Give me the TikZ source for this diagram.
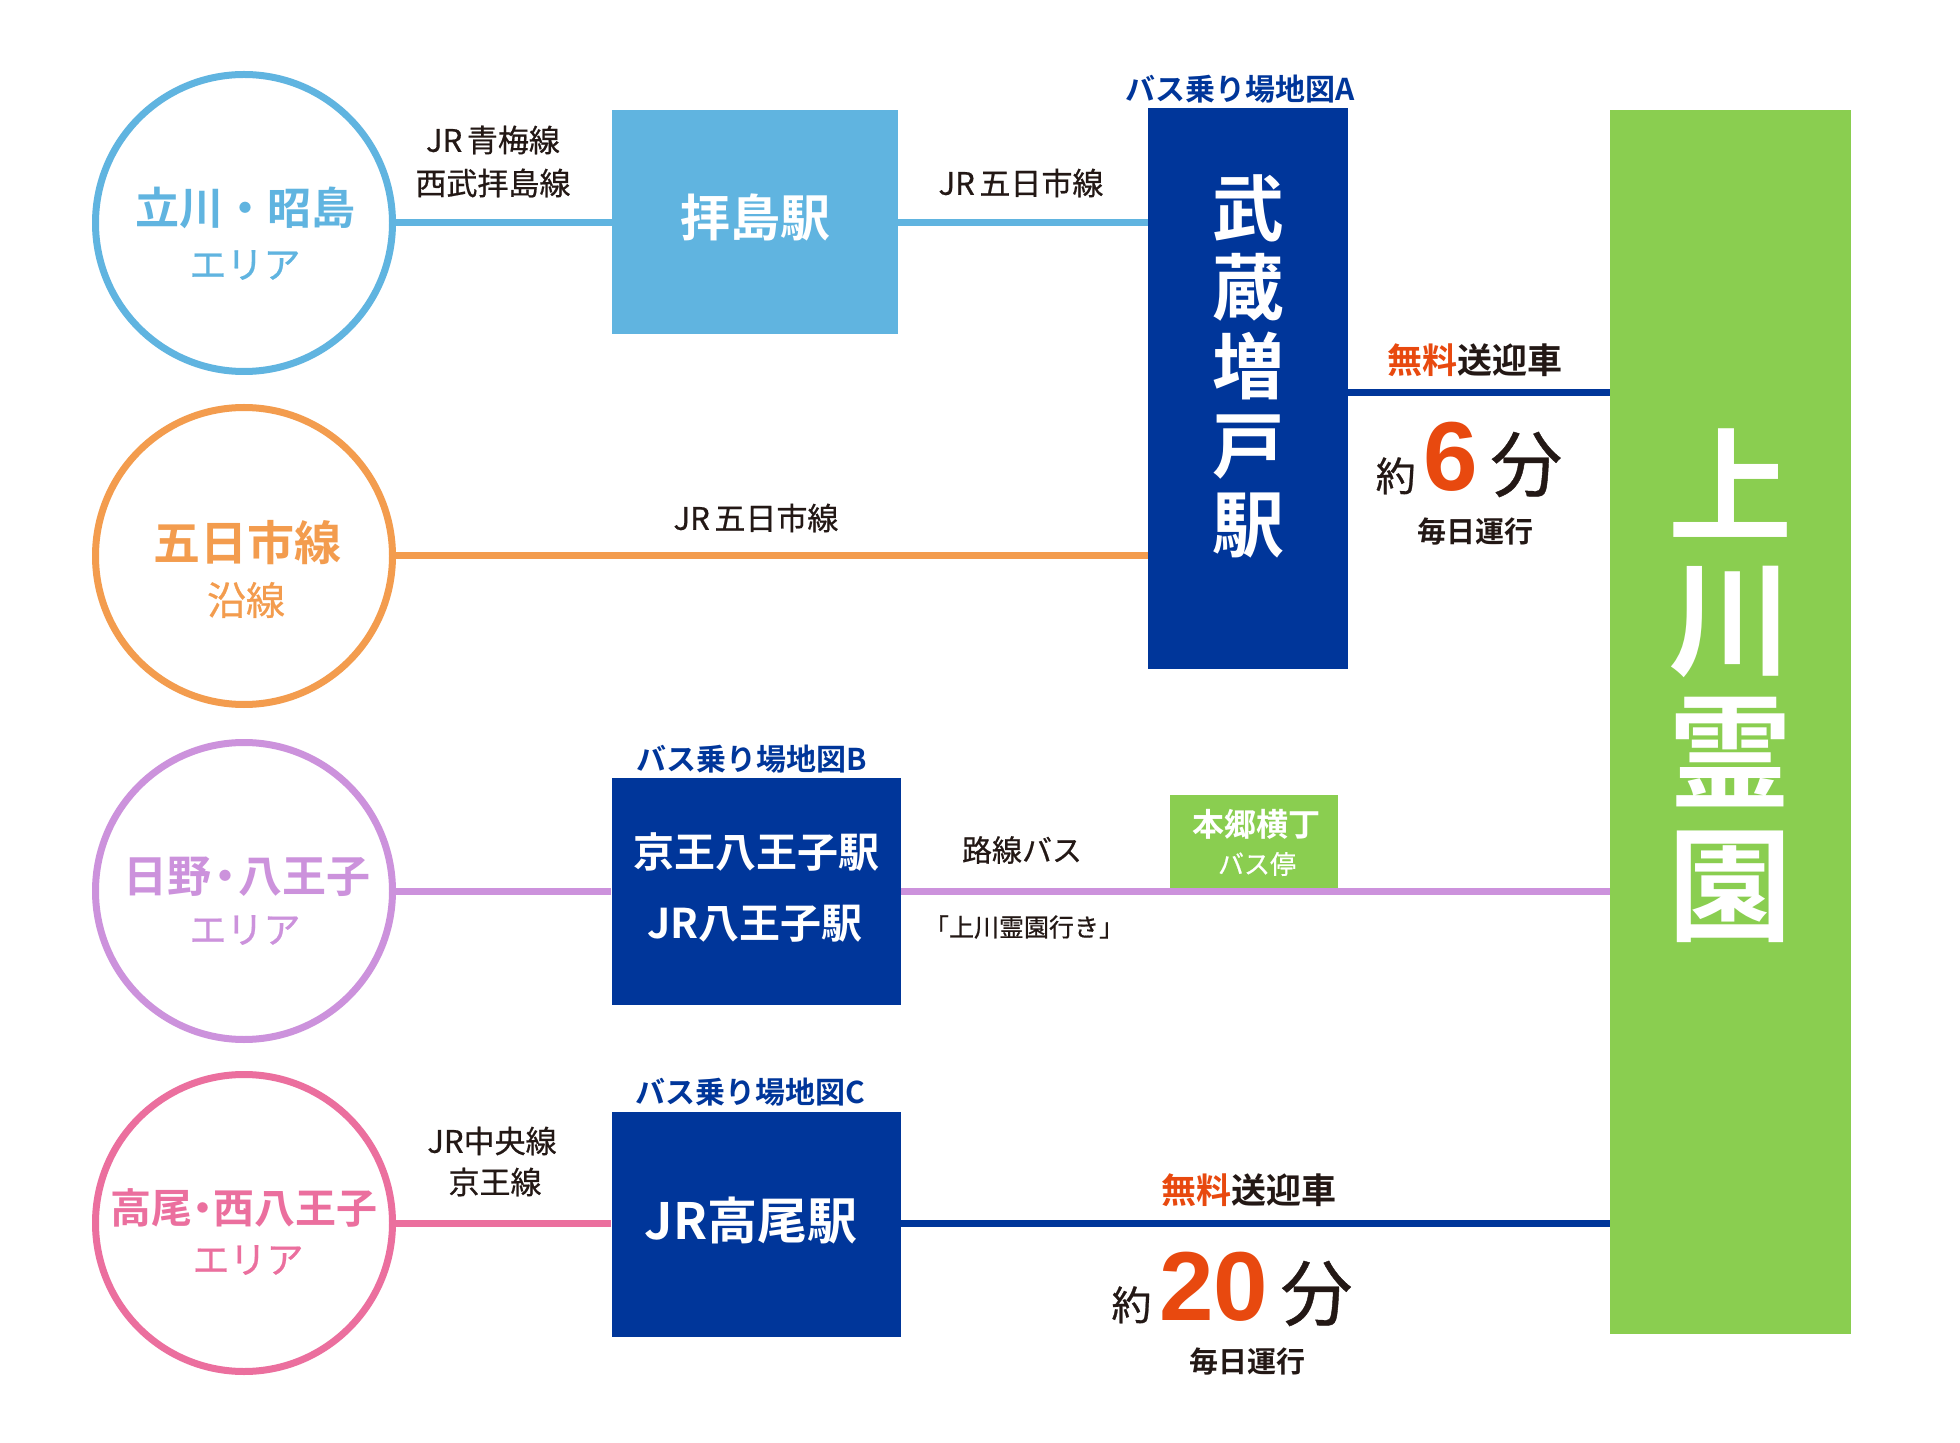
\documentclass[tikz,border=0pt]{standalone}
\usepackage{fontspec}
\setmainfont{Noto Sans CJK JP}[BoldFont={Noto Sans CJK JP Bold}]
\newfontfamily\jpm{Noto Sans CJK JP}[FakeBold=0.6]
\newfontfamily\numfont{Liberation Sans}
\definecolor{lblue}{RGB}{96,180,224}
\definecolor{dblue}{RGB}{0,54,154}
\definecolor{kgreen}{RGB}{138,206,80}
\definecolor{orng}{RGB}{243,156,78}
\definecolor{purp}{RGB}{204,146,220}
\definecolor{pinkc}{RGB}{235,111,158}
\definecolor{redt}{RGB}{232,73,15}
\definecolor{ink}{RGB}{35,24,21}
\newcommand\jfs[1]{\fontsize{#1}{#1}\selectfont}
\begin{document}
\begin{tikzpicture}[x=0.5pt,y=-0.5pt,
  ring/.style={circle,draw,line width=3.5pt,minimum size=148.5pt,inner sep=0pt},
  box/.style={rectangle,draw=none,inner sep=0pt},
  conn/.style={line width=3.5pt},
  txt/.style={inner sep=0pt,text=ink},
  lbl/.style={txt,font=\jpm\jfs{15.5}}]
\fill[white] (0,0) rectangle (1960,1443);
\useasboundingbox (0,0) rectangle (1960,1443);
% circles
\node[ring,draw=lblue] (c1) at (244,223) {};
\node[ring,draw=orng] (c2) at (244,556) {};
\node[ring,draw=purp] (c3) at (244,891) {};
\node[ring,draw=pinkc] (c4) at (244,1223) {};
% boxes
\node[box,fill=lblue,minimum width=143pt,minimum height=112pt] (hai) at (755,222) {};
\node[box,fill=dblue,minimum width=100pt,minimum height=280.5pt] (mus) at (1248,388.5) {};
\node[box,fill=kgreen,minimum width=120.5pt,minimum height=612pt] (kami) at (1730.5,722) {};
\node[box,fill=dblue,minimum width=144.5pt,minimum height=113.5pt] (kei) at (756,891.5) {};
\node[box,fill=dblue,minimum width=144.5pt,minimum height=112.5pt] (tak) at (756,1224.5) {};
% connectors
\coordinate (m6) at (1348,393);
\draw[conn,lblue] (c1.east) -- (c1.east -| hai.west);
\draw[conn,lblue] (hai.east |- c1.east) -- (c1.east -| mus.west);
\draw[conn,orng] (c2.east) -- (c2.east -| mus.west);
\draw[conn,dblue] (m6) -- (m6 -| kami.west);
\draw[conn,purp] (c3.east) -- (c3.east -| kei.west);
\draw[conn,purp] (kei.east |- c3.east) -- (c3.east -| kami.west);
\draw[conn,pinkc] (c4.east) -- (c4.east -| tak.west);
\draw[conn,dblue] (tak.east |- c4.east) -- (c4.east -| kami.west);
\node[box,fill=kgreen,minimum width=84pt,minimum height=46.5pt] (hongo) at (1254,841.5) {};
% circle texts
\node[txt,text=lblue,font=\bfseries\jfs{22}] (t1a) at (245,208) {立川・昭島};
\node[txt,text=lblue,font=\jpm\jfs{18.5}] (t1b) at (245,265) {エリア};
\node[txt,text=orng,font=\bfseries\jfs{23.5}] (t2a) at (247,543) {五日市線};
\node[txt,text=orng,font=\jpm\jfs{19.5}] (t2b) at (246,600) {沿線};
\node[txt,text=purp,font=\bfseries\jfs{22}] (t3a) at (247,877) {日野{\kern-.2em}・{\kern-.2em}八王子};
\node[txt,text=purp,font=\jpm\jfs{18.5}] (t3b) at (245,930) {エリア};
\node[txt,text=pinkc,font=\bfseries\jfs{20.5}] (t4a) at (244,1208) {高尾{\kern-.25em}・{\kern-.25em}西八王子};
\node[txt,text=pinkc,font=\jpm\jfs{18.5}] (t4b) at (248,1260) {エリア};
% labels row 1
\node[lbl] (l1a) at (493,140) {JR\hspace{0.15em}青梅線};
\node[lbl] (l1b) at (493,183) {西武拝島線};
\node[txt,text=white,font=\bfseries\jfs{25}] (hait) at (755,217) {拝島駅};
\node[lbl] (l2) at (1021,183) {JR\hspace{0.15em}五日市線};
\node[txt,text=dblue,font=\bfseries\jfs{15}] (mapA) at (1240,89) {バス乗り場地図A};
\node[txt,text=white,font=\bfseries\fontsize{36}{39.5}\selectfont,align=center] (must) at (1248,366) {武\\蔵\\増\\戸\\駅};
\node[lbl] (l3) at (756,518) {JR\hspace{0.15em}五日市線};
\node[txt,font=\bfseries\jfs{17.5}] (free1) at (1475,360) {\textcolor{redt}{無料}送迎車};
\node[txt,anchor=base,font=\jpm\jfs{20}] (min6) at (1469,491) {約\hspace{4pt}{\numfont\bfseries\fontsize{49}{49}\selectfont\textcolor{redt}{6}}\hspace{6pt}{\jfs{36}分}};
\node[txt,font=\bfseries\jfs{14.5}] (daily1) at (1475,532) {毎日運行};
\node[txt,text=white,font=\bfseries\fontsize{62}{66.5}\selectfont,align=center] (kamit) at (1730,686) {上\\川\\霊\\園};
% row 3
\node[txt,text=dblue,font=\bfseries\jfs{15}] (mapB) at (752,759) {バス乗り場地図B};
\node[txt,text=white,font=\bfseries\jfs{20.5}] (keit1) at (756,852) {京王八王子駅};
\node[txt,text=white,font=\bfseries\jfs{20.5}] (keit2) at (755,924) {JR八王子駅};
\node[txt,font=\jpm\jfs{15}] (rosen) at (1022,850) {路線バス};
\node[txt,font=\jpm\jfs{12.5}] (ikisaki) at (1024,927) {「上川霊園行き」};
\node[txt,text=white,font=\bfseries\jfs{16}] (hongo1) at (1256,824) {本郷横丁};
\node[txt,text=white,font=\jpm\jfs{13}] (hongo2) at (1257,864) {バス停};
% row 4
\node[txt,text=dblue,font=\bfseries\jfs{15}] (mapC) at (750,1092) {バス乗り場地図C};
\node[lbl] (l4a) at (492,1141) {JR中央線};
\node[lbl] (l4b) at (495,1182) {京王線};
\node[txt,text=white,font=\bfseries\jfs{25}] (takt) at (751,1221) {JR高尾駅};
\node[txt,font=\bfseries\jfs{17.5}] (free2) at (1249,1190) {\textcolor{redt}{無料}送迎車};
\node[txt,anchor=base,font=\jpm\jfs{20}] (min20) at (1232,1320) {約\hspace{4pt}{\numfont\bfseries\fontsize{49}{49}\selectfont\textcolor{redt}{20}}\hspace{6pt}{\jfs{36}分}};
\node[txt,font=\bfseries\jfs{14.5}] (daily2) at (1247,1362) {毎日運行};
\end{tikzpicture}
\end{document}
